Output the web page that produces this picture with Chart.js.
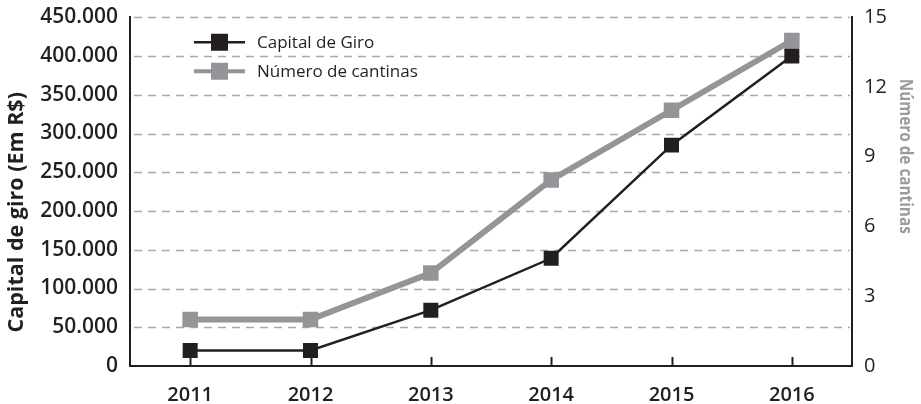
<!DOCTYPE html>
<html lang="pt-BR">
<head>
  <meta charset="UTF-8" />
  <title>Capital de Giro x Número de cantinas</title>
  <script src="https://cdn.jsdelivr.net/npm/chart.js"></script>
  <style>
    html, body { margin: 0; padding: 0; background: #fff; }
    #wrap { width: 921px; height: 404px; }
  </style>
</head>
<body>
  <div id="wrap"><canvas id="chart" width="921" height="404"></canvas></div>

  <script>
    // dados
    const years = ['2011', '2012', '2013', '2014', '2015', '2016'];
    const capitalGiro = [20000, 20000, 72000, 139000, 285000, 400000];
    const numCantinas = [2, 2, 4, 8, 11, 14];

    const leftMax = 450000, leftStep = 50000;
    const rightMax = 15, rightStep = 3;

    const BLACK = '#231f20';
    const GRAY = '#939598';
    const FONT = "'Open Sans', 'Noto Sans', sans-serif";

    function fmtBR(v) {
      return String(v).replace(/\B(?=(\d{3})+(?!\d))/g, '.');
    }

    // linhas de grade tracejadas, a partir do eixo y esquerdo
    const dashedGrid = {
      id: 'dashedGrid',
      beforeDatasetsDraw(chart) {
        const y = chart.scales.y, ctx = chart.ctx, a = chart.chartArea;
        ctx.save();
        ctx.strokeStyle = '#a7a9ac';
        ctx.lineWidth = 1.4;
        ctx.setLineDash([8, 6]);
        y.ticks.forEach(t => {
          if (t.value === 0) return;
          const py = Math.round(y.getPixelForValue(t.value)) + 0.5;
          ctx.beginPath();
          ctx.moveTo(a.left + 4, py);
          ctx.lineTo(a.right - 2, py);
          ctx.stroke();
        });
        ctx.restore();
      }
    };

    // ticks do eixo x voltados para dentro
    const innerTicks = {
      id: 'innerTicks',
      afterDatasetsDraw(chart) {
        const x = chart.scales.x, ctx = chart.ctx, bottom = chart.chartArea.bottom;
        ctx.save();
        ctx.strokeStyle = BLACK;
        ctx.lineWidth = 2;
        for (let i = 0; i < x.ticks.length; i++) {
          const px = Math.round(x.getPixelForTick(i)) + 0.5;
          ctx.beginPath();
          ctx.moveTo(px, bottom);
          ctx.lineTo(px, bottom - 9);
          ctx.stroke();
        }
        ctx.restore();
      }
    };

    // títulos dos eixos (fora do centro, como no original)
    const axisTitles = {
      id: 'axisTitles',
      afterDraw(chart) {
        const ctx = chart.ctx, a = chart.chartArea;
        ctx.save();
        ctx.font = "bold 21.5px " + FONT;
        ctx.textAlign = 'center';
        ctx.textBaseline = 'middle';
        ctx.fillStyle = BLACK;
        ctx.translate(17, a.top + 195);
        ctx.rotate(-Math.PI / 2);
        ctx.fillText('Capital de giro (Em R$)', 0, 0);
        ctx.restore();

        ctx.save();
        ctx.font = "bold 18px " + FONT;
        ctx.textAlign = 'center';
        ctx.textBaseline = 'middle';
        ctx.fillStyle = '#9a9b9d';
        ctx.translate(905, a.top + 139);
        ctx.rotate(Math.PI / 2);
        ctx.scale(0.85, 1);
        ctx.fillText('Número de cantinas', 0, 0);
        ctx.restore();
      }
    };

    // legenda dentro da área do gráfico: linha + quadrado
    const insideLegend = {
      id: 'insideLegend',
      afterDraw(chart) {
        const ctx = chart.ctx, a = chart.chartArea;
        const x0 = a.left + 64, x1 = a.left + 115, xt = a.left + 127;
        ctx.save();
        ctx.font = "17px " + FONT;
        ctx.textBaseline = 'middle';
        chart.data.datasets.forEach((ds, i) => {
          const y = a.top + 25 + i * 29;
          ctx.strokeStyle = ds.borderColor;
          ctx.lineWidth = i === 0 ? 2.5 : 4;
          ctx.beginPath();
          ctx.moveTo(x0, y);
          ctx.lineTo(x1, y);
          ctx.stroke();
          ctx.fillStyle = ds.pointBackgroundColor;
          const s = 17, cx = (x0 + x1) / 2;
          ctx.fillRect(cx - s / 2, y - s / 2, s, s);
          ctx.fillStyle = BLACK;
          ctx.fillText(ds.label, xt, y + 1);
        });
        ctx.restore();
      }
    };

    new Chart(document.getElementById('chart'), {
      type: 'line',
      data: {
        labels: years,
        datasets: [
          {
            label: 'Capital de Giro',
            data: capitalGiro,
            yAxisID: 'y',
            borderColor: BLACK,
            backgroundColor: BLACK,
            pointBackgroundColor: BLACK,
            borderWidth: 2.5,
            pointStyle: 'rect',
            pointRadius: 10.6,
            pointBorderWidth: 0,
            tension: 0
          },
          {
            label: 'Número de cantinas',
            data: numCantinas,
            yAxisID: 'y1',
            borderColor: GRAY,
            backgroundColor: GRAY,
            pointBackgroundColor: GRAY,
            borderWidth: 6,
            pointStyle: 'rect',
            pointRadius: 11,
            pointBorderWidth: 0,
            tension: 0
          }
        ]
      },
      options: {
        responsive: false,
        animation: false,
        layout: { padding: { top: 8, left: 0, right: 0, bottom: 0 } },
        plugins: {
          legend: { display: false },
          tooltip: { enabled: false }
        },
        scales: {
          x: {
            offset: true,
            grid: { display: false, drawTicks: false },
            border: { display: true, color: BLACK, width: 2 },
            ticks: {
              color: BLACK,
              padding: 17,
              font: { family: FONT, size: 20, weight: '600' }
            },
            afterFit(s) { s.height = 38; }
          },
          y: {
            position: 'left',
            min: 0,
            max: leftMax,
            grid: { display: false, drawTicks: false },
            border: { display: true, color: BLACK, width: 2 },
            ticks: {
              stepSize: leftStep,
              color: BLACK,
              padding: 12,
              font: { family: FONT, size: 21, weight: '600', lineHeight: 0.5 },
              callback: v => fmtBR(v)
            },
            afterFit(s) { s.width = 130; }
          },
          y1: {
            position: 'right',
            min: 0,
            max: rightMax,
            grid: { display: false, drawTicks: false },
            border: { display: true, color: BLACK, width: 2 },
            ticks: {
              stepSize: rightStep,
              color: BLACK,
              padding: 12,
              font: { family: FONT, size: 20, weight: '400', lineHeight: 0.5 }
            },
            afterFit(s) { s.width = 69; }
          }
        }
      },
      plugins: [dashedGrid, innerTicks, axisTitles, insideLegend]
    });
  </script>
</body>
</html>
